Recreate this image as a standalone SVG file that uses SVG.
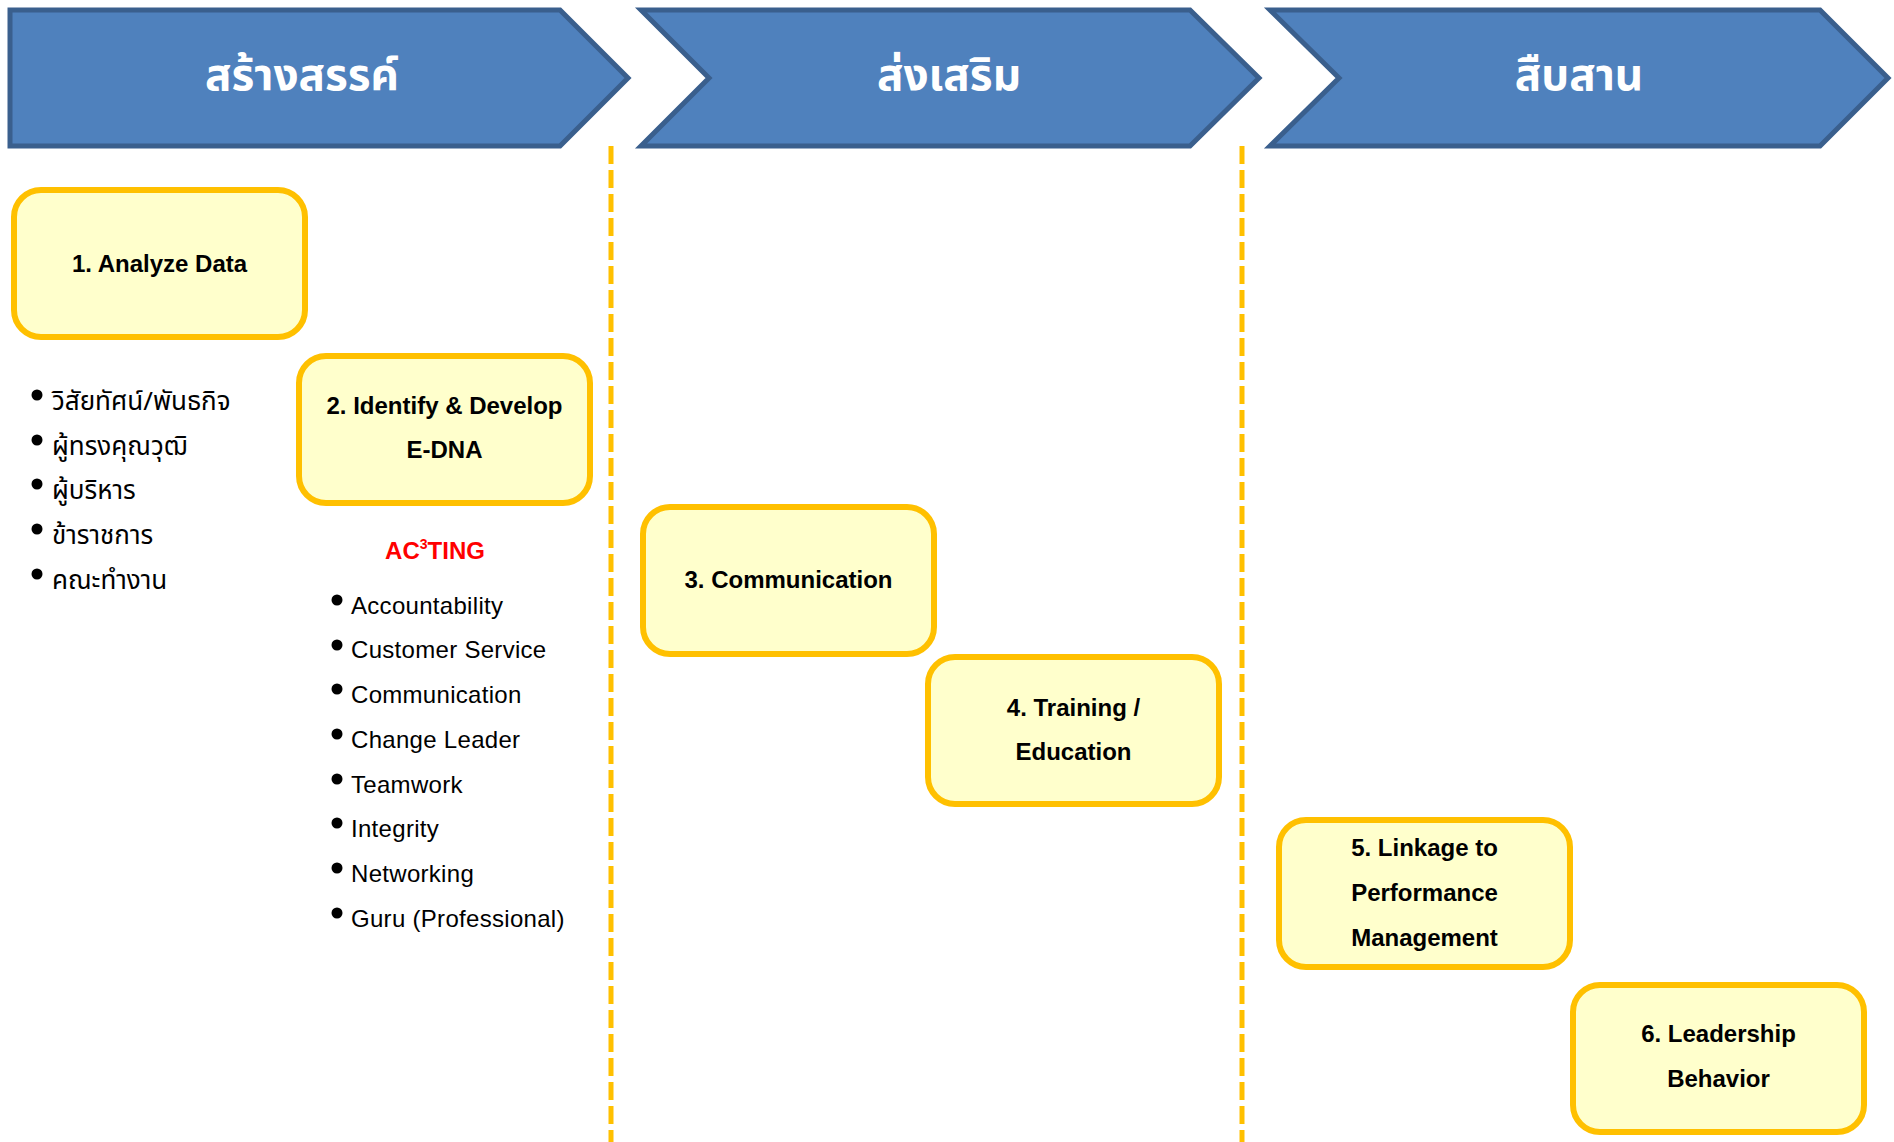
<svg xmlns="http://www.w3.org/2000/svg" width="1894" height="1142" viewBox="0 0 1894 1142">
  <style>
    .chev { fill: #4F81BD; stroke: #3A5F8D; stroke-width: 5; stroke-linejoin: miter; }
    .head { font-family: "Noto Sans Thai", "Loma", "Garuda", "Noto Sans", sans-serif; font-size: 44px; font-weight: bold; fill: #FFFFFF; text-anchor: middle; }
    .box { fill: #FFFFCC; stroke: #FFC000; stroke-width: 6; }
    .lbl { font-family: "Liberation Sans", Arial, sans-serif; font-size: 24px; font-weight: bold; fill: #000000; text-anchor: middle; }
    .divider { stroke: #FFC000; stroke-width: 5; stroke-dasharray: 18 6; fill: none; }
    .th { font-family: "Noto Sans Thai", "Loma", "Garuda", "Noto Sans", sans-serif; font-size: 26px; fill: #000000; }
    .en { font-family: "Liberation Sans", Arial, sans-serif; font-size: 24px; letter-spacing: 0.3px; fill: #000000; }
    .dot { fill: #000000; }
    .acting { font-family: "Liberation Sans", Arial, sans-serif; font-size: 24px; font-weight: bold; fill: #FF0000; text-anchor: middle; }
  </style>

  <!-- phase banners -->
  <g id="phase-create">
    <path class="chev" d="M10,10 H560 L628,78 L560,146 H10 Z"/>
    <text class="head" x="302" y="90">สร้างสรรค์</text>
  </g>
  <g id="phase-promote">
    <path class="chev" d="M641,10 H1190 L1259,78 L1190,146 H641 L709,78 Z"/>
    <text class="head" x="949" y="90">ส่งเสริม</text>
  </g>
  <g id="phase-inherit">
    <path class="chev" d="M1270,10 H1820 L1888,78 L1820,146 H1270 L1339,78 Z"/>
    <text class="head" x="1579" y="90">สืบสาน</text>
  </g>

  <!-- dashed column dividers -->
  <g id="connectors">
    <line class="divider" x1="611" y1="146" x2="611" y2="1142"/>
    <line class="divider" x1="1242" y1="146" x2="1242" y2="1142"/>
  </g>

  <!-- step boxes -->
  <g id="step1">
    <rect class="box" x="14" y="190" width="291" height="147" rx="27"/>
    <text class="lbl" x="159.5" y="272">1. Analyze Data</text>
  </g>
  <g id="step2">
    <rect class="box" x="299" y="356" width="291" height="147" rx="27"/>
    <text class="lbl" x="444.5" y="414">2. Identify &amp; Develop</text>
    <text class="lbl" x="444.5" y="458">E-DNA</text>
  </g>
  <g id="step3">
    <rect class="box" x="643" y="507" width="291" height="147" rx="27"/>
    <text class="lbl" x="788.5" y="588">3. Communication</text>
  </g>
  <g id="step4">
    <rect class="box" x="928" y="657" width="291" height="147" rx="27"/>
    <text class="lbl" x="1073.5" y="716">4. Training /</text>
    <text class="lbl" x="1073.5" y="760">Education</text>
  </g>
  <g id="step5">
    <rect class="box" x="1279" y="820" width="291" height="147" rx="27"/>
    <text class="lbl" x="1424.5" y="856">5. Linkage to</text>
    <text class="lbl" x="1424.5" y="901">Performance</text>
    <text class="lbl" x="1424.5" y="946">Management</text>
  </g>
  <g id="step6">
    <rect class="box" x="1573" y="985" width="291" height="147" rx="27"/>
    <text class="lbl" x="1718.5" y="1042">6. Leadership</text>
    <text class="lbl" x="1718.5" y="1087">Behavior</text>
  </g>

  <!-- data sources list -->
  <g id="sources">
    <circle class="dot" cx="37" cy="395" r="5.5"/>
    <text class="th" x="52" y="410">วิสัยทัศน์/พันธกิจ</text>
    <circle class="dot" cx="37" cy="440" r="5.5"/>
    <text class="th" x="52" y="455">ผู้ทรงคุณวุฒิ</text>
    <circle class="dot" cx="37" cy="484" r="5.5"/>
    <text class="th" x="52" y="499">ผู้บริหาร</text>
    <circle class="dot" cx="37" cy="529" r="5.5"/>
    <text class="th" x="52" y="544">ข้าราชการ</text>
    <circle class="dot" cx="37" cy="574" r="5.5"/>
    <text class="th" x="52" y="589">คณะทำงาน</text>
  </g>

  <!-- AC3TING values list -->
  <g id="acting">
    <text class="acting" x="435" y="559">AC<tspan font-size="14" dy="-10">3</tspan><tspan dy="10">TING</tspan></text>
    <circle class="dot" cx="337" cy="600" r="5.5"/>
    <text class="en" x="351" y="614">Accountability</text>
    <circle class="dot" cx="337" cy="645" r="5.5"/>
    <text class="en" x="351" y="658">Customer Service</text>
    <circle class="dot" cx="337" cy="689" r="5.5"/>
    <text class="en" x="351" y="703">Communication</text>
    <circle class="dot" cx="337" cy="734" r="5.5"/>
    <text class="en" x="351" y="748">Change Leader</text>
    <circle class="dot" cx="337" cy="779" r="5.5"/>
    <text class="en" x="351" y="793">Teamwork</text>
    <circle class="dot" cx="337" cy="823" r="5.5"/>
    <text class="en" x="351" y="837">Integrity</text>
    <circle class="dot" cx="337" cy="868" r="5.5"/>
    <text class="en" x="351" y="882">Networking</text>
    <circle class="dot" cx="337" cy="913" r="5.5"/>
    <text class="en" x="351" y="927">Guru (Professional)</text>
  </g>
</svg>
